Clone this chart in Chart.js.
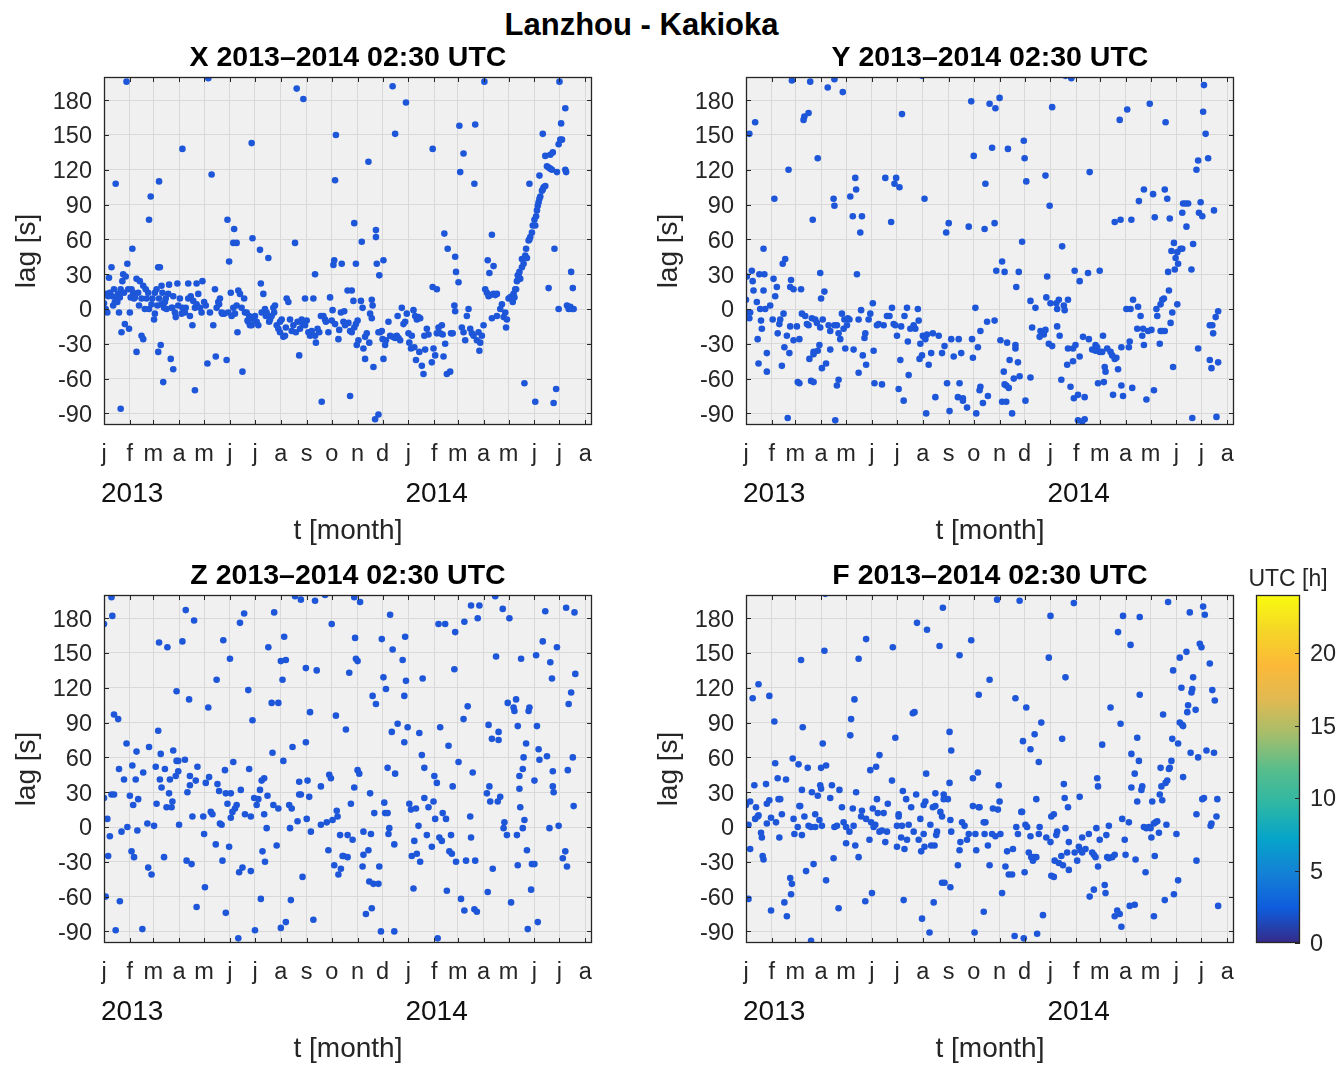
<!DOCTYPE html>
<html><head><meta charset="utf-8">
<script src="https://cdn.jsdelivr.net/npm/chart.js@4.4.1/dist/chart.umd.min.js"></script>
<style>
html{margin:0;padding:0;overflow:hidden;background:#fff}
body{margin:0;padding:0;background:#fff;width:1338px;height:1066px;overflow:hidden;position:relative;font-family:"Liberation Sans",Arial,sans-serif}
canvas{position:absolute}
#main{position:absolute;left:0;top:7px;width:1283px;text-align:center;font:bold 31px/36px "Liberation Sans",Arial,sans-serif;color:#000}
</style></head><body>
<div id="main">Lanzhou - Kakioka</div>
<canvas id="cX" width="610" height="510" style="left:0;top:38px"></canvas>
<canvas id="cY" width="610" height="510" style="left:642px;top:38px"></canvas>
<canvas id="cZ" width="610" height="510" style="left:0;top:556px"></canvas>
<canvas id="cF" width="610" height="510" style="left:642px;top:556px"></canvas>
<canvas id="cB" width="100" height="400" style="left:1238px;top:556px"></canvas>
<script>
// ---- axis definitions (day 0 = 1 Jan 2013) ----
const monthStartDays = [0,31,59,90,120,151,181,212,243,273,304,334,365,396,424,455,485,516,546,577];
const monthLabels = ['j','f','m','a','m','j','j','a','s','o','n','d','j','f','m','a','m','j','j','a'];
const yearStartDays = [0,365];
const yearLabels = ['2013','2014'];
const lagTicks = [-90,-60,-30,0,30,60,90,120,150,180];
const utcTicks = [0,5,10,15,20];
const panelTitles = ['X 2013–2014 02:30 UTC','Y 2013–2014 02:30 UTC','Z 2013–2014 02:30 UTC','F 2013–2014 02:30 UTC'];

// ---- data: [day, lag s] ----
const lagX = [[0,5],[2,0],[3,13],[4,-3],[5,11],[6,27],[7,14],[9,36],[10,11],[11,3],[12,17],[13,6],[14,108],[15,9],[16,6],[17,13],[18,-3],[19,10],[20,-86],[20,17],[21,-20],[22,24],[23,30],[24,14],[25,-13],[26,28],[27,196],[28,39],[29,17],[30,-17],[31,-3],[32,10],[33,17],[34,52],[35,14],[36,9],[37,10],[39,26],[39,-37],[41,14],[42,3],[43,24],[45,-23],[45,9],[47,-26],[47,20],[49,0],[50,17],[51,9],[53,14],[54,0],[54,77],[56,97],[57,4],[58,9],[60,-9],[61,-4],[61,14],[63,17],[64,3],[65,36],[65,-37],[66,110],[66,9],[67,36],[68,-31],[69,4],[69,20],[70,14],[71,-63],[72,1],[73,6],[74,9],[75,0],[77,13],[78,21],[80,-43],[81,1],[82,1],[83,-52],[83,11],[85,-3],[86,-7],[88,22],[89,3],[91,9],[93,-4],[94,1],[94,138],[96,0],[97,-3],[98,1],[101,22],[101,9],[103,-6],[104,11],[106,-14],[107,7],[109,-70],[109,1],[111,22],[111,4],[113,13],[115,1],[117,-3],[118,24],[120,6],[122,3],[124,-47],[125,199],[127,-3],[129,116],[131,-14],[133,17],[134,-41],[135,1],[137,6],[138,4],[139,9],[141,-3],[142,-4],[144,-4],[147,-44],[148,77],[149,-3],[150,41],[152,14],[153,-6],[155,1],[155,57],[156,69],[157,-4],[159,57],[159,3],[160,-20],[161,16],[163,13],[165,1],[166,-54],[168,9],[169,-3],[171,-3],[172,-10],[173,-11],[174,-6],[175,-14],[177,143],[177,-14],[178,61],[180,-9],[181,-6],[183,-11],[185,-14],[187,51],[188,22],[189,-3],[191,13],[193,0],[194,-6],[195,-3],[197,44],[198,-11],[199,-9],[201,-6],[203,1],[204,-3],[205,3],[207,-14],[209,-17],[211,-20],[211,-11],[213,-9],[215,-24],[217,-23],[218,-16],[219,9],[221,6],[223,-9],[225,-19],[227,-14],[229,57],[230,-20],[231,190],[232,-11],[234,-40],[235,-17],[237,-9],[238,-13],[239,181],[241,-14],[241,9],[243,-10],[245,-20],[247,-23],[249,-19],[251,9],[253,30],[253,-23],[254,-29],[256,-17],[258,-20],[260,-6],[261,-80],[263,-6],[265,-9],[266,-11],[269,-20],
[271,10],[274,-1],[273,-10],[275,38],[276,42],[277,-13],[277,111],[278,150],[281,-26],[282,-18],[284,-3],[285,39],[287,-11],[288,-2],[289,-14],[292,16],[293,-12],[295,-19],[295,-75],[297,-20],[297,16],[299,7],[300,-16],[300,74],[302,-13],[302,39],[303,-31],[304,-10],[305,-27],[308,7],[309,58],[310,1],[311,-34],[313,-43],[313,-24],[315,-21],[317,127],[318,-29],[319,-4],[321,-8],[321,8],[322,3],[323,-50],[325,-95],[326,68],[326,62],[327,39],[329,-20],[329,-91],[330,29],[331,-20],[333,-19],[334,-26],[335,-43],[335,42],[337,-31],[338,-27],[341,-11],[343,-23],[346,-24],[346,192],[349,-25],[349,151],[351,-23],[352,-6],[353,-25],[355,-27],[357,1],[359,-13],[361,-11],[362,178],[363,-4],[365,-21],[366,-29],[368,-34],[369,-23],[371,-1],[372,-33],[373,-6],[374,-44],[375,-9],[377,-7],[378,-37],[379,-8],[381,-49],[383,-56],[384,-23],[385,-35],[387,-17],[389,-22],[393,-46],[394,138],[394,19],[395,-34],[397,-40],[399,-21],[399,17],[401,-16],[403,-21],[405,-14],[406,-22],[407,-41],[408,65],[409,-30],[411,-56],[412,52],[415,-54],[416,-21],[418,-21],[420,3],[421,-2],[421,45],[422,32],[425,23],[426,158],[427,118],[429,-16],[431,-20],[431,134],[433,-27],[435,-6],[437,0],[439,-17],[441,-21],[443,-23],[444,108],[445,159],[447,-27],[449,-20],[450,-36],[451,-29],[453,-23],[455,-14],[456,196],[457,17],[459,14],[460,42],[461,11],[462,31],[463,12],[465,-8],[465,64],[467,13],[467,37],[469,12],[471,13],[471,-6],[475,0],[477,4],[479,-7],[481,-3],[482,-16],[483,-9],[485,9],[487,10],[489,11],[490,6],[491,13],[492,10],[493,17],[494,17],[495,24],[496,29],[497,29],[498,32],[499,26],[501,36],[501,43],[503,39],[504,-64],[505,46],[506,52],[507,44],[509,59],[510,60],[510,108],[511,62],[513,66],[514,72],[516,77],[517,72],[517,-80],[518,80],[519,85],[520,89],[521,92],[522,95],[522,115],[523,97],[525,102],[526,103],[526,151],[527,105],[529,106],[529,132],[531,123],[533,122],[533,18],[535,121],[535,133],[537,120],[538,135],[539,-81],[540,52],[542,-69],[543,118],[545,142],[545,0],[546,196],[547,146],[548,160],[549,146],[553,173],[553,120],[554,118],[555,3],[557,0],[559,2],[560,32],[561,0],[562,18],[563,0]];

const lagY = [[55,197],[77,196],[98,191],[106,198],[116,187],[211,201],[270,179],[292,177],[187,168],[4,151],[11,161],[69,163],[70,166],[75,169],[86,130],[51,120],[34,95],[105,95],[106,89],[131,113],[132,103],[125,97],[167,113],[180,113],[178,108],[184,105],[128,80],[139,80],[137,66],[80,77],[174,75],[214,95],[267,71],[243,74],[240,66],[286,69],[287,108],[273,132],[21,52],[47,43],[44,39],[7,33],[1,28],[16,30],[22,30],[8,24],[9,16],[21,16],[33,26],[37,19],[35,11],[54,25],[53,19],[57,17],[66,17],[89,31],[133,30],[90,9],[94,15],[0,8],[2,-3],[5,-3],[4,-8],[13,6],[17,0],[23,0],[29,3],[18,-10],[19,-17],[14,-26],[15,-47],[25,-38],[25,-54],[32,-9],[40,-13],[45,-4],[38,-21],[46,-33],[43,-49],[52,-38],[49,-23],[61,-15],[64,-26],[62,-63],[64,-64],[67,-4],[73,-13],[79,-8],[83,-9],[85,-12],[92,-9],[81,-37],[86,-36],[88,-31],[81,-39],[78,-62],[81,-63],[76,-43],[91,-51],[96,-47],[99,-14],[101,-19],[109,-14],[111,-21],[113,-26],[117,-17],[121,-14],[101,-35],[106,-14],[115,-4],[118,-9],[122,-8],[124,-9],[111,-61],[109,-66],[107,-96],[50,-94],[119,-34],[129,-35],[135,-55],[144,-48],[140,-40],[138,-1],[135,-9],[142,-25],[143,-21],[147,-9],[149,-4],[152,5],[153,-36],[154,-64],[163,-65],[157,-14],[159,-13],[165,-14],[169,-6],[172,-6],[175,1],[177,-13],[179,-14],[186,-15],[181,-23],[185,-44],[189,-79],[183,-69],[193,1],[190,-6],[194,-28],[195,-57],[206,0],[207,-10],[203,-17],[201,-14],[197,-17],[212,-23],[213,-24],[215,-26],[217,-22],[224,-21],[231,-23],[209,-30],[211,-40],[208,-43],[219,-48],[222,-38],[227,-76],[216,-90],[241,-64],[244,-88],[256,-64],[254,-76],[260,-77],[260,-79],[265,-85],[276,-90],[235,-38],[238,-32],[246,-26],[255,-26],[249,-41],[258,-38],[271,-26],[272,-42],[278,-33],[281,-67],[280,-70],[284,-81],[290,-75],[275,1],[281,-19],[289,-11],[71,-6],[75,-14],[89,-16],[57,-27],[41,-9],[53,-15],
[383,201],[390,199],[549,193],[304,182],[299,173],[367,174],[484,177],[457,172],[448,163],[503,161],[548,170],[551,151],[542,128],[554,130],[540,120],[295,139],[314,138],[333,145],[334,130],[336,110],[359,115],[412,118],[364,89],[298,74],[331,58],[379,54],[307,41],[300,33],[310,32],[327,32],[324,19],[361,28],[394,33],[400,24],[410,31],[424,33],[477,103],[488,99],[502,103],[471,93],[505,95],[524,91],[527,91],[530,91],[523,83],[545,92],[543,83],[547,80],[561,85],[528,71],[442,75],[449,77],[462,77],[490,79],[508,78],[513,57],[510,50],[515,44],[518,39],[521,52],[517,49],[523,52],[514,34],[506,32],[534,34],[536,56],[507,16],[517,4],[511,-3],[492,0],[493,-6],[497,4],[499,8],[501,9],[464,8],[470,2],[456,0],[461,0],[473,-6],[475,-23],[477,-31],[469,-17],[476,-17],[482,-19],[486,-18],[497,-19],[499,-19],[502,-19],[496,-30],[512,-50],[509,-12],[542,-34],[556,-14],[559,-14],[560,-21],[563,-7],[566,-2],[556,-44],[566,-46],[558,-51],[535,-94],[564,-93],[341,7],[347,1],[360,10],[365,5],[372,5],[373,0],[381,3],[382,-1],[386,8],[375,8],[343,-16],[353,-19],[357,-22],[352,-24],[359,-18],[363,-30],[367,-32],[373,-15],[376,-23],[298,-10],[305,-27],[313,-29],[323,-31],[323,-34],[316,-44],[326,-46],[309,-54],[310,-65],[312,-66],[315,-68],[321,-60],[328,-58],[307,-80],[312,-80],[319,-90],[335,-79],[341,-59],[378,-61],[389,-67],[393,-77],[398,-74],[406,-76],[398,-96],[403,-97],[406,-95],[386,-34],[392,-34],[395,-31],[400,-41],[392,-45],[385,-48],[404,-24],[411,-26],[415,-35],[419,-36],[424,-37],[427,-37],[419,-31],[421,-33],[428,-23],[433,-34],[437,-37],[439,-40],[442,-43],[444,-42],[446,-52],[450,-33],[459,-33],[460,-28],[430,-50],[431,-54],[422,-64],[429,-63],[440,-74],[450,-66],[452,-75],[463,-68],[480,-78],[489,-70]];

const lagZ = [[9,198],[0,175],[10,182],[98,187],[108,178],[66,159],[76,155],[94,160],[143,161],[163,176],[168,184],[204,185],[229,199],[236,196],[253,195],[265,200],[273,175],[197,155],[216,164],[212,143],[218,144],[151,145],[242,137],[255,135],[135,127],[214,127],[173,118],[87,117],[102,110],[201,107],[209,107],[125,103],[247,99],[278,96],[12,97],[17,93],[178,92],[65,83],[242,73],[27,72],[54,69],[39,65],[68,63],[83,66],[226,69],[202,64],[215,57],[97,58],[87,57],[89,57],[155,56],[18,50],[34,53],[47,47],[62,52],[73,50],[89,48],[112,52],[145,49],[174,50],[24,41],[38,41],[67,41],[79,41],[86,44],[103,44],[110,40],[103,36],[126,43],[122,38],[136,37],[189,40],[192,42],[234,39],[244,40],[260,35],[270,45],[272,42],[0,25],[9,28],[12,28],[31,27],[41,24],[35,19],[63,20],[78,29],[82,22],[75,17],[81,17],[69,34],[100,30],[138,31],[146,29],[152,29],[164,32],[180,25],[185,24],[187,32],[183,19],[196,27],[203,19],[209,16],[222,19],[225,16],[234,28],[246,26],[236,28],[279,14],[4,7],[7,-8],[5,-25],[28,0],[40,-3],[52,3],[60,1],[90,2],[106,9],[119,9],[128,13],[130,11],[139,3],[141,2],[152,8],[154,13],[159,19],[157,16],[148,20],[169,11],[176,9],[192,11],[195,-1],[223,-1],[232,5],[243,7],[248,-4],[260,2],[267,4],[274,6],[280,9],[283,-7],[21,-4],[33,-21],[36,-26],[72,-26],[99,-29],[105,-32],[120,-6],[134,-15],[142,-29],[150,-17],[190,-21],[193,-30],[207,-16],[269,-20],[276,-33],[281,-41],[284,-36],[286,-25],[53,-35],[57,-41],[121,-52],[162,-39],[166,-35],[176,-38],[238,-43],[2,-60],[19,-64],[111,-69],[146,-74],[188,-62],[224,-63],[251,-80],[14,-89],[46,-88],[161,-96],[181,-89],[212,-87],[218,-82],
[300,198],[307,194],[343,183],[440,191],[450,191],[469,199],[478,188],[486,180],[448,180],[432,177],[401,175],[409,175],[421,168],[529,186],[554,189],[564,185],[526,160],[543,155],[301,163],[333,162],[361,164],[346,153],[302,145],[304,143],[294,133],[335,129],[338,119],[362,126],[358,144],[382,128],[470,147],[500,145],[518,148],[535,142],[537,128],[565,132],[420,136],[322,113],[326,106],[360,113],[484,107],[494,110],[491,103],[492,100],[510,103],[509,100],[436,104],[431,93],[557,106],[560,116],[290,84],[352,89],[345,82],[364,86],[378,81],[360,73],[403,86],[413,70],[461,88],[465,76],[473,82],[473,75],[496,87],[506,72],[519,87],[521,67],[531,61],[522,58],[538,48],[503,60],[502,50],[498,44],[498,33],[516,40],[538,35],[539,30],[556,49],[562,60],[563,18],[381,62],[384,51],[340,51],[349,46],[304,49],[306,46],[300,34],[319,29],[296,20],[396,44],[399,38],[418,35],[425,56],[442,47],[459,29],[462,35],[463,22],[472,22],[475,26],[336,21],[337,12],[340,12],[324,12],[342,-1],[341,-6],[366,20],[368,15],[374,16],[384,25],[389,17],[395,22],[397,7],[406,12],[410,7],[377,1],[372,-12],[387,-7],[393,-17],[402,-9],[405,-12],[416,-7],[440,-9],[439,9],[414,-21],[417,-23],[292,-7],[298,-11],[287,-25],[292,-26],[311,-4],[320,-6],[317,-20],[311,-24],[348,-15],[369,-25],[375,-23],[379,-30],[422,-30],[434,-29],[445,-29],[466,-36],[496,-33],[507,-20],[495,-7],[483,-7],[479,-1],[480,4],[502,-1],[504,6],[499,17],[513,-32],[516,-32],[534,-1],[545,1],[550,-27],[553,-21],[555,-34],[310,-34],[330,-34],[318,-47],[323,-49],[329,-49],[371,-53],[411,-55],[460,-56],[512,-54],[428,-62],[432,-72],[444,-71],[447,-73],[488,-65],[314,-75],[321,-70],[332,-90],[348,-90],[400,-96],[508,-88],[520,-82]];

const lagF = [[95,201],[236,189],[205,176],[217,170],[144,162],[176,155],[232,156],[270,161],[256,148],[135,145],[66,144],[94,152],[292,127],[279,114],[15,123],[8,111],[28,113],[130,110],[126,93],[125,79],[200,98],[202,99],[34,91],[68,86],[244,82],[246,66],[92,72],[179,77],[160,62],[149,49],[156,52],[96,53],[90,51],[56,59],[63,54],[74,51],[35,55],[216,46],[272,42],[278,47],[10,36],[24,37],[38,42],[48,41],[175,40],[89,36],[90,33],[103,36],[101,25],[112,32],[67,32],[79,30],[86,27],[132,30],[157,24],[188,31],[192,24],[204,28],[227,29],[237,28],[242,24],[244,38],[0,19],[5,22],[12,17],[25,20],[28,23],[39,24],[41,24],[64,18],[65,18],[83,11],[70,9],[115,17],[128,16],[139,14],[152,16],[170,20],[158,12],[165,12],[183,11],[183,9],[198,17],[213,19],[215,22],[224,17],[227,18],[233,13],[237,24],[272,18],[280,17],[287,4],[3,2],[14,9],[15,10],[11,7],[25,3],[30,8],[36,4],[43,11],[57,7],[62,0],[67,-7],[75,1],[78,0],[83,0],[88,6],[91,1],[106,0],[109,1],[117,4],[120,0],[124,-4],[129,1],[138,9],[144,7],[150,4],[153,0],[155,2],[160,-4],[163,-3],[169,-4],[181,1],[187,1],[195,2],[201,-4],[209,7],[213,-6],[221,2],[229,-4],[235,9],[245,6],[259,4],[262,1],[267,-6],[275,-6],[279,17],[285,4],[286,-6],[5,-19],[18,-5],[19,-9],[20,-25],[21,-28],[40,-9],[58,-6],[120,-14],[131,-16],[135,-26],[148,-11],[167,-13],[181,-17],[186,-9],[190,-19],[193,-11],[207,-11],[210,-21],[214,-17],[222,-16],[226,-16],[228,-7],[246,-4],[256,-20],[257,-13],[265,-11],[276,-20],[290,-16],[292,-33],[3,-62],[30,-72],[46,-65],[49,-77],[53,-44],[55,-49],[54,-58],[72,-38],[81,-32],[96,-46],[105,-27],[111,-70],[143,-64],[151,-57],[189,-63],[211,-79],[220,-91],[225,-65],[235,-48],[238,-48],[245,-52],[254,-33],[274,-91],[285,-73],[78,-98],
[301,196],[328,195],[393,193],[365,182],[452,182],[472,181],[506,194],[532,185],[548,190],[550,183],[446,168],[461,157],[363,146],[383,129],[544,158],[546,155],[528,151],[520,146],[556,141],[512,135],[536,129],[323,111],[336,103],[522,120],[535,119],[534,116],[530,105],[529,99],[539,101],[559,118],[562,109],[472,114],[437,103],[500,97],[354,90],[346,80],[332,74],[341,67],[379,76],[449,89],[427,71],[469,77],[520,90],[523,88],[524,87],[511,76],[518,72],[533,64],[542,60],[552,66],[561,64],[462,63],[471,57],[510,57],[508,51],[507,50],[524,43],[466,46],[497,51],[498,35],[503,38],[505,40],[351,56],[421,42],[422,35],[303,36],[304,22],[302,15],[296,16],[331,13],[381,37],[382,25],[348,24],[386,17],[400,26],[462,34],[475,35],[469,22],[487,22],[499,23],[496,28],[474,32],[549,25],[547,24],[565,24],[540,11],[558,3],[557,1],[564,9],[295,-6],[305,-6],[299,-8],[324,0],[326,-6],[335,2],[337,0],[330,13],[366,9],[369,11],[352,0],[351,-6],[360,-9],[341,-8],[365,-13],[372,-7],[373,-4],[383,-1],[387,-13],[403,-9],[411,-6],[420,-1],[424,-11],[432,-7],[435,1],[451,7],[454,-11],[459,4],[477,0],[480,-1],[483,0],[485,-1],[486,-9],[489,3],[491,4],[493,5],[495,-5],[504,2],[516,-6],[313,-21],[320,-19],[311,-34],[315,-41],[319,-41],[334,-39],[339,-22],[344,-29],[345,-26],[348,-26],[342,-26],[366,-42],[369,-43],[370,-29],[375,-31],[378,-25],[380,-33],[385,-22],[387,-37],[394,-22],[397,-29],[399,-17],[401,-20],[403,-22],[407,-19],[415,-22],[417,-24],[419,-26],[422,-34],[433,-26],[435,-27],[439,-26],[442,-24],[455,-24],[467,-28],[479,-39],[490,-25],[540,-29],[307,-57],[412,-60],[417,-54],[430,-50],[431,-57],[445,-72],[442,-77],[448,-75],[450,-86],[460,-68],[466,-67],[489,-77],[502,-63],[513,-58],[518,-46],[566,-68],[322,-94],[333,-96],[349,-92],[356,-76]];

// ---- styling ----
const FONT = '"Liberation Sans", Arial, Helvetica, sans-serif';
const INK = '#262626';
const DOT = '#1d56d8';
const parulaStops = [[0,'#352a87'],[0.1,'#0f5cdd'],[0.2,'#1481d6'],[0.3,'#06a4ca'],[0.4,'#2eb7a4'],[0.5,'#59bd8c'],[0.6,'#a5be6b'],[0.7,'#e1b952'],[0.8,'#fcb938'],[0.9,'#f5d726'],[1,'#f9fb0e']];

const boxPlugin = {
  id: 'matBox',
  beforeDraw(chart, args, o) {
    if (!o.bg) return;
    const {ctx, chartArea: a} = chart;
    ctx.save(); ctx.fillStyle = o.bg;
    ctx.fillRect(a.left, a.top, a.right - a.left, a.bottom - a.top);
    ctx.restore();
  },
  afterDraw(chart, args, o) {
    const {ctx, chartArea: a, scales} = chart;
    const L = 5;
    ctx.save();
    ctx.strokeStyle = INK; ctx.lineWidth = 1;
    ctx.beginPath();
    if (o.cbar) {
      for (const t of scales.y.ticks) {
        const y = Math.round(scales.y.getPixelForValue(t.value)) + 0.5;
        ctx.moveTo(a.right, y); ctx.lineTo(a.right - L, y);
      }
    } else {
      for (const t of scales.x.ticks) {
        const x = Math.round(scales.x.getPixelForValue(t.value)) + 0.5;
        ctx.moveTo(x, a.bottom); ctx.lineTo(x, a.bottom - L);
        ctx.moveTo(x, a.top); ctx.lineTo(x, a.top + L);
      }
      for (const t of scales.y.ticks) {
        const y = Math.round(scales.y.getPixelForValue(t.value)) + 0.5;
        ctx.moveTo(a.left, y); ctx.lineTo(a.left + L, y);
        ctx.moveTo(a.right, y); ctx.lineTo(a.right - L, y);
      }
    }
    ctx.stroke();
    ctx.lineWidth = 1.3;
    ctx.strokeRect(a.left + 0.5, a.top + 0.5, a.right - a.left - 1, a.bottom - a.top - 1);
    if (o.years) {
      ctx.font = '28px ' + FONT;
      ctx.fillStyle = '#111';
      ctx.textAlign = 'left';
      ctx.textBaseline = 'alphabetic';
      yearStartDays.forEach((d, i) => {
        ctx.fillText(yearLabels[i], scales.x.getPixelForValue(d) - 3, a.bottom + 77);
      });
    }
    ctx.restore();
  }
};

function makePanel(id, title, pts) {
  return new Chart(document.getElementById(id), {
    type: 'scatter',
    data: { datasets: [{
      data: pts.map(p => ({x: p[0], y: p[1]})),
      pointRadius: 3.3, pointHoverRadius: 3.3,
      pointBackgroundColor: DOT, pointBorderWidth: 0, showLine: false
    }]},
    options: {
      responsive: false, animation: false, devicePixelRatio: 1, events: [],
      layout: { padding: { left: 0, right: 18, top: 0, bottom: 3 } },
      plugins: {
        legend: { display: false }, tooltip: { enabled: false },
        title: { display: true, text: title, fullSize: false, color: '#000',
          font: { family: FONT, size: 28.5, weight: 'bold', lineHeight: 1 },
          padding: { top: 5.75, bottom: 4.75 } },
        matBox: { bg: '#f0f0f0', years: true }
      },
      scales: {
        x: {
          type: 'linear', min: 0, max: 585,
          afterBuildTicks: s => { s.ticks = monthStartDays.map(v => ({value: v})); },
          afterFit: s => { s.height = 120; },
          grid: { color: '#d9d9d9', lineWidth: 1, drawTicks: false },
          border: { display: false },
          ticks: { autoSkip: false, maxRotation: 0, minRotation: 0, padding: 15, color: INK,
            font: { family: FONT, size: 23.5 }, callback: (v, i) => monthLabels[i] },
          title: { display: true, text: 't [month]', color: INK,
            font: { family: FONT, size: 28, lineHeight: 1 }, padding: { top: 0, bottom: 0 } }
        },
        y: {
          type: 'linear', min: -100, max: 200,
          afterBuildTicks: s => { s.ticks = lagTicks.map(v => ({value: v})); },
          afterFit: s => { s.width = 104; },
          grid: { color: '#d9d9d9', lineWidth: 1, drawTicks: false },
          border: { display: false },
          ticks: { padding: 12, labelOffset: 2, color: INK, font: { family: FONT, size: 23.5 } },
          title: { display: true, text: 'lag [s]', color: INK,
            font: { family: FONT, size: 28, lineHeight: 1 }, padding: { top: 13, bottom: 0 } }
        }
      }
    },
    plugins: [boxPlugin]
  });
}

makePanel('cX', panelTitles[0], lagX);
makePanel('cY', panelTitles[1], lagY);
makePanel('cZ', panelTitles[2], lagZ);
makePanel('cF', panelTitles[3], lagF);

// colorbar
new Chart(document.getElementById('cB'), {
  type: 'bar',
  data: { labels: ['UTC'], datasets: [{
    data: [[0, 24]],
    xAxisID: 'x', yAxisID: 'y',
    backgroundColor: c => {
      const a = c.chart.chartArea;
      if (!a) return DOT;
      const g = c.chart.ctx.createLinearGradient(0, a.bottom, 0, a.top);
      parulaStops.forEach(s => g.addColorStop(s[0], s[1]));
      return g;
    },
    borderWidth: 0, barPercentage: 1, categoryPercentage: 1
  }]},
  options: {
    responsive: false, animation: false, devicePixelRatio: 1, events: [],
    layout: { padding: { left: 0, right: 0, top: 0, bottom: 13 } },
    plugins: {
      legend: { display: false }, tooltip: { enabled: false },
      title: { display: true, text: 'UTC [h]', color: INK,
        font: { family: FONT, size: 23, weight: 'normal', lineHeight: 1 },
        padding: { top: 12, bottom: 4 } },
      matBox: { cbar: true }
    },
    scales: {
      x: { type: 'category', display: false },
      pad: {
        type: 'linear', position: 'left', display: true, min: 0, max: 1,
        grid: { display: false, drawTicks: false }, border: { display: false },
        ticks: { display: false },
        afterFit: s => { s.width = 18; s.paddingTop = 0; s.paddingBottom = 0; }
      },
      y: {
        type: 'linear', position: 'right', min: 0, max: 24,
        afterBuildTicks: s => { s.ticks = utcTicks.map(v => ({value: v})); },
        afterFit: s => { s.width = 38; s.paddingTop = 0; s.paddingBottom = 0; },
        grid: { display: false, drawTicks: false },
        border: { display: false },
        ticks: { padding: 10, labelOffset: 2, color: INK, font: { family: FONT, size: 23.5, lineHeight: 1 } }
      }
    }
  },
  plugins: [boxPlugin]
});
</script>
</body></html>
